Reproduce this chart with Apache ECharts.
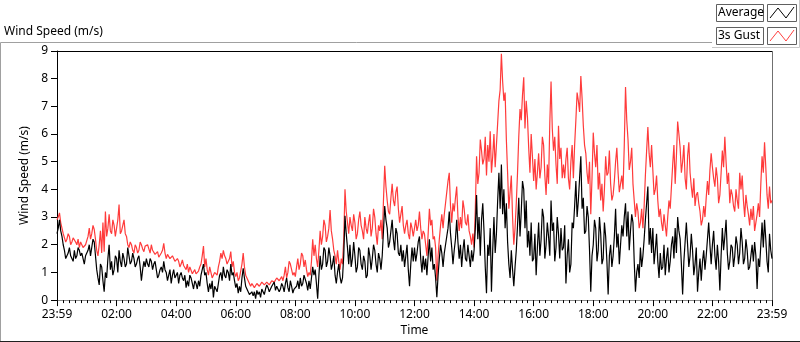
<!DOCTYPE html>
<html>
<head>
<meta charset="utf-8">
<title>Wind Speed</title>
<script src="https://cdn.jsdelivr.net/npm/echarts@6/dist/echarts.min.js"></script>
<style>
  html, body { margin: 0; padding: 0; background: #fff; }
  #chart { width: 800px; height: 342px; }
</style>
</head>
<body>
<div id="chart"></div>
<script>
// 采样间隔(分钟), 第 0 个点 = 23:59
var stepMin = 2.5;

// x 轴刻度文字, 每 120 分钟一个
var xTickLabels = ['23:59', '02:00', '04:00', '06:00', '08:00', '10:00', '12:00',
  '14:00', '16:00', '18:00', '20:00', '22:00', '23:59'];

// 3s Gust (m/s), 每行一小时 (24 个点)
var gust = [
  2.9, 3.0, 3.15, 2.8, 2.6, 2.4, 2.35, 2.1, 2.2, 2.4, 2.3, 2.0, 2.1, 2.25, 2.3, 2.1, 2.0, 2.2, 1.9, 2.1, 2.0, 1.9, 1.85, 2.0,
  1.95, 2.3, 2.6, 2.2, 2.4, 2.7, 2.55, 2.2, 1.8, 1.6, 2.0, 2.5, 1.7, 2.8, 1.75, 3.2, 2.3, 2.6, 3.1, 2.5, 2.4, 2.9, 2.7, 2.3,
  2.6, 2.9, 3.45, 2.4, 2.5, 2.7, 2.9, 2.4, 2.3, 2.0, 1.9, 2.1, 2.0, 1.8, 1.7, 2.0, 1.9, 1.7, 1.8, 2.1, 2.0, 1.85, 1.75, 1.95,
  1.9, 2.0, 1.85, 1.7, 2.0, 1.8, 1.8, 1.65, 1.6, 1.75, 1.55, 1.5, 1.7, 1.8, 2.05, 1.7, 1.5, 1.65, 1.6, 1.5, 1.45, 1.6, 1.5, 1.4,
  1.35, 1.5, 1.4, 1.2, 1.3, 1.45, 1.25, 1.2, 1.1, 1.3, 1.0, 1.2, 1.15, 0.95, 1.0, 1.1, 0.95, 1.0, 1.05, 1.2, 1.3, 1.6, 1.95, 1.2,
  1.5, 1.1, 0.9, 1.2, 1.0, 0.8, 0.85, 1.0, 0.95, 0.9, 1.2, 1.4, 1.7, 1.5, 1.8, 1.6, 1.5, 1.3, 1.4, 1.5, 1.75, 1.2, 1.4, 1.0,
  0.85, 1.0, 0.7, 0.8, 0.75, 1.3, 1.7, 1.2, 0.9, 0.8, 0.7, 0.6, 0.5, 0.6, 0.55, 0.45, 0.45, 0.6, 0.65, 0.5, 0.55, 0.65, 0.7, 0.55,
  0.6, 0.65, 0.7, 0.55, 0.6, 0.7, 0.75, 0.65, 0.7, 0.8, 0.8, 0.7, 0.75, 0.85, 0.7, 0.9, 1.2, 0.8, 1.0, 1.4, 1.3, 1.1, 0.9, 1.0,
  0.85, 1.2, 1.5, 1.1, 1.3, 1.7, 1.6, 1.2, 1.45, 1.1, 0.85, 1.0, 0.9, 1.4, 2.2, 1.6, 2.0, 1.5, 1.2, 1.8, 2.5, 2.0, 2.3, 2.9,
  2.7, 2.1, 2.3, 2.6, 3.25, 2.5, 2.2, 1.8, 1.6, 1.3, 1.8, 1.4, 1.1, 1.5, 1.3, 2.2, 4.0, 3.2, 2.8, 2.4, 3.0, 2.7, 2.5, 3.1,
  2.8, 2.2, 2.4, 2.9, 3.2, 2.7, 2.5, 2.2, 3.0, 2.6, 2.4, 2.8, 3.1, 2.3, 2.6, 3.3, 3.0, 2.4, 2.0, 2.7, 2.5, 2.9, 2.2, 3.6,
  4.85, 4.1, 3.6, 3.2, 3.1, 3.7, 4.2, 3.6, 3.4, 3.9, 4.1, 3.3, 2.8, 3.1, 3.4, 2.7, 2.4, 2.7, 2.9, 2.4, 2.2, 2.8, 2.6, 2.3,
  2.6, 2.9, 2.5, 2.7, 3.2, 2.6, 2.2, 2.5, 2.4, 2.0, 1.6, 2.4, 3.3, 2.7, 2.9, 2.2, 2.3, 1.9, 0.7, 1.6, 2.2, 2.7, 3.1, 2.6,
  3.1, 3.5, 3.9, 4.3, 4.6, 3.4, 2.8, 3.5, 3.2, 3.7, 4.1, 3.0, 2.5, 3.0, 2.6, 3.6, 3.3, 2.8, 2.7, 3.1, 2.5, 2.3, 2.0, 2.4,
  1.9, 3.3, 5.2, 4.2, 4.6, 5.8, 5.4, 4.9, 5.1, 5.9, 4.5, 5.6, 5.0, 6.1, 4.6, 5.2, 6.0, 4.8, 5.6, 6.4, 7.2, 7.6, 8.9, 7.9,
  7.2, 7.5, 5.8, 4.6, 3.3, 3.9, 4.5, 3.0, 2.0, 2.6, 3.5, 4.6, 5.9, 6.9, 6.5, 7.4, 8.05, 6.2, 7.2, 6.6, 5.5, 4.6, 6.0, 5.2,
  4.3, 5.1, 4.0, 4.6, 5.3, 4.4, 4.8, 5.9, 5.6, 4.5, 3.8, 4.9, 4.2, 6.4, 7.9, 6.2, 5.4, 5.9, 4.9, 4.2, 6.3, 5.1, 5.5, 4.4,
  4.9, 4.4, 5.1, 5.5, 4.4, 4.0, 5.0, 5.6, 4.4, 5.6, 6.5, 7.5, 7.2, 6.8, 8.1, 7.3, 6.3, 5.6, 5.3, 4.6, 4.2, 5.0, 3.1, 4.4,
  6.05, 5.3, 4.8, 5.6, 4.0, 4.6, 3.6, 4.2, 3.2, 4.0, 5.2, 4.5, 4.6, 5.4, 4.2, 3.6, 3.8, 4.3, 5.0, 5.5, 4.6, 3.9, 3.9, 4.5,
  4.0, 5.6, 7.7, 6.5, 5.8, 4.7, 5.0, 5.5, 4.2, 3.6, 3.0, 3.5, 3.2, 2.6, 2.8, 3.3, 2.6, 3.4, 4.5, 5.4, 6.25, 5.3, 4.8, 5.6,
  4.7, 3.8, 4.0, 4.5, 3.6, 3.0, 3.3, 2.8, 2.5, 3.1, 2.7, 2.3, 3.0, 3.6, 3.3, 4.1, 4.9, 5.6, 4.2, 5.2, 6.45, 6.0, 5.5, 4.6,
  5.0, 5.6, 4.4, 4.0, 5.2, 5.7, 4.6, 4.1, 3.7, 4.4, 3.4, 3.8, 3.9, 3.5, 3.2, 2.7, 2.9, 3.4, 3.0, 3.7, 4.3, 3.8, 4.7, 5.3,
  4.8, 4.4, 4.1, 4.8, 4.4, 3.5, 3.8, 4.6, 5.4, 4.8, 5.9, 5.0, 4.2, 4.6, 3.5, 4.0, 3.8, 3.4, 3.2, 4.0, 3.6, 3.3, 4.6, 4.0,
  4.5, 3.6, 3.0, 3.8, 3.4, 3.1, 2.7, 3.3, 2.9, 3.4, 2.5, 2.8, 3.1, 3.5, 3.0, 4.2, 5.2, 4.6, 5.7, 4.8, 3.8, 3.3, 4.1, 3.5, 3.6
];

// Average (m/s), 每行一小时 (24 个点)
var avg = [
  2.4, 2.6, 2.9, 2.5, 2.3, 2.0, 1.8, 1.5, 1.6, 1.7, 1.9, 1.6, 1.5, 1.4, 1.8, 1.5, 1.6, 1.9, 1.8, 1.6, 1.7, 1.5, 1.3, 1.6,
  1.6, 1.8, 2.0, 1.6, 1.9, 2.2, 2.1, 1.6, 1.1, 0.8, 0.55, 1.3, 1.2, 0.7, 0.3, 1.0, 0.8, 1.5, 2.0, 1.1, 1.4, 0.9, 1.1, 1.6,
  1.5, 1.0, 1.8, 1.4, 1.2, 1.7, 1.5, 1.2, 1.3, 1.9, 1.6, 1.3, 1.4, 1.7, 1.5, 1.2, 1.3, 1.5, 1.6, 1.2, 0.7, 1.1, 1.4, 1.2,
  1.5, 1.3, 1.2, 1.5, 1.4, 1.1, 1.3, 1.4, 1.1, 0.8, 0.9, 1.1, 1.2, 1.0, 1.4, 1.1, 1.0, 0.7, 0.9, 1.1, 0.6, 0.9, 1.1, 0.8,
  0.9, 1.0, 0.6, 0.9, 1.0, 0.8, 0.7, 0.9, 0.45, 0.7, 0.5, 0.9, 0.8, 0.6, 0.4, 0.7, 0.6, 0.4, 0.7, 0.5, 0.9, 1.1, 1.3, 0.9,
  1.0, 0.6, 0.3, 0.6, 0.4, 0.7, 0.1, 0.5, 0.4, 0.3, 0.6, 0.9, 1.0, 0.7, 1.2, 0.9, 0.8, 1.1, 1.0, 0.7, 1.3, 0.9, 1.0, 0.7,
  0.45, 0.6, 0.25, 0.5, 0.3, 0.8, 1.15, 0.8, 0.5, 0.4, 0.3, 0.2, 0.2, 0.3, 0.15, 0.3, 0.05, 0.35, 0.2, 0.3, 0.1, 0.4, 0.35, 0.2,
  0.4, 0.55, 0.45, 0.3, 0.35, 0.5, 0.5, 0.65, 0.35, 0.5, 0.55, 0.3, 0.4, 0.6, 0.5, 0.3, 0.6, 0.8, 0.45, 0.3, 0.7, 0.5, 0.25, 0.4,
  0.35, 0.5, 0.7, 0.4, 0.8, 0.5, 0.6, 0.9, 0.9, 0.6, 0.35, 0.7, 0.4, 0.8, 1.2, 0.9, 1.1, 0.6, 0.05, 0.9, 1.6, 1.1, 1.3, 1.9,
  1.8, 1.2, 1.4, 1.9, 1.6, 1.1, 1.3, 1.6, 0.9, 0.6, 1.0, 1.3, 0.85, 0.6, 0.8, 1.6, 3.05, 2.4, 1.9, 1.3, 2.0, 1.2, 1.5, 2.1,
  1.6, 1.0, 1.2, 1.9, 1.8, 1.3, 1.1, 1.6, 1.4, 0.8, 0.9, 1.9, 1.6, 1.1, 1.5, 2.0, 1.8, 1.3, 1.0, 1.7, 1.5, 1.1, 1.6, 2.5,
  3.4, 2.9, 2.6, 1.9, 2.1, 2.5, 2.9, 2.2, 1.8, 2.6, 2.4, 1.7, 1.6, 2.0, 1.4, 1.8, 1.2, 1.6, 2.0, 1.1, 0.5, 1.3, 1.9, 1.4,
  1.9, 1.4, 1.7, 2.1, 2.3, 1.5, 1.0, 1.6, 1.1, 1.5, 0.9, 1.6, 2.2, 1.4, 1.9, 1.1, 1.3, 0.8, 0.1, 0.9, 1.5, 2.0, 1.7, 1.2,
  1.7, 2.0, 2.3, 2.6, 3.2, 2.4, 1.9, 1.3, 1.8, 2.2, 2.9, 2.1, 1.5, 2.0, 1.2, 1.8, 2.2, 1.5, 1.4, 2.0, 1.6, 1.2, 1.8, 1.4,
  1.8, 2.6, 3.8, 2.2, 3.0, 1.6, 2.9, 3.5, 2.5, 1.2, 0.25, 2.0, 1.6, 2.6, 0.3, 1.8, 3.0, 1.7, 2.4, 3.6, 4.6, 3.3, 4.9, 3.1,
  4.0, 2.6, 3.5, 2.1, 1.3, 0.8, 1.8, 1.1, 0.5, 1.2, 1.8, 2.7, 3.7, 2.3, 3.2, 4.3, 4.0, 2.6, 3.6, 1.9, 2.5, 1.6, 2.8, 1.4,
  1.5, 2.4, 0.9, 1.9, 2.8, 1.6, 2.2, 3.3, 3.0, 1.5, 2.0, 2.8, 2.3, 1.6, 3.6, 2.5, 2.8, 1.4, 1.9, 3.0, 2.4, 1.5, 2.6, 1.8,
  1.9, 2.7, 0.6, 1.6, 2.2, 1.0, 1.3, 2.8, 2.6, 3.4, 4.3, 3.0, 3.6, 4.4, 5.2, 3.3, 3.7, 2.4, 2.5, 3.4, 3.0, 1.8, 0.3, 1.6,
  2.0, 2.9, 2.6, 1.4, 1.8, 3.0, 2.4, 1.3, 1.5, 2.8, 2.3, 1.4, 0.2, 1.6, 2.0, 1.2, 1.6, 2.3, 3.3, 1.9, 2.4, 1.3, 2.0, 2.7,
  2.3, 3.0, 3.5, 2.3, 3.2, 1.8, 2.5, 3.1, 2.8, 1.4, 0.3, 1.0, 1.3, 0.8, 1.9, 1.2, 1.6, 2.2, 2.9, 3.5, 4.1, 2.0, 2.6, 1.7,
  2.6, 1.3, 1.8, 2.4, 1.4, 0.8, 1.7, 1.1, 1.2, 2.0, 0.9, 1.5, 1.9, 1.0, 1.4, 2.0, 2.3, 1.5, 2.6, 1.7, 3.0, 2.5, 2.2, 1.3,
  0.2, 1.4, 2.1, 2.8, 2.0, 1.2, 1.6, 2.4, 1.8, 0.9, 1.3, 1.9, 0.3, 1.0, 1.5, 0.7, 1.4, 1.8, 1.1, 1.6, 2.2, 2.8, 2.0, 1.3,
  2.0, 2.5, 1.6, 1.1, 2.0, 1.4, 0.35, 1.6, 2.6, 1.8, 2.3, 2.9, 1.7, 1.1, 1.4, 2.0, 1.9, 1.2, 1.6, 2.3, 2.0, 1.3, 1.7, 2.6,
  2.1, 1.3, 1.5, 2.2, 1.8, 1.1, 1.2, 1.6, 2.0, 1.4, 2.1, 1.6, 0.4, 1.5, 1.2, 2.0, 2.8, 1.9, 2.9, 2.2, 1.4, 1.0, 2.4, 1.8, 1.5
];

var font = '"Noto Sans", "Open Sans", sans-serif';

function toPairs(arr) {
  return arr.map(function (v, i) { return [i * stepMin, v]; });
}

// 右上角图例 (文字框 + 小折线)
function legendRow(top, name, color) {
  return [
    { type: 'rect', shape: { x: 716.5, y: top + 0.5, width: 47, height: 17 },
      style: { fill: '#fff', stroke: '#606060', lineWidth: 1 } },
    { type: 'text', x: 718, y: top + 9,
      style: { text: name, font: '12px ' + font, fill: '#000', verticalAlign: 'middle' } },
    { type: 'rect', shape: { x: 767.5, y: top + 0.5, width: 29, height: 17 },
      style: { fill: '#fff', stroke: '#606060', lineWidth: 1 } },
    { type: 'polyline', shape: { points: [[770, top + 14], [778, top + 4], [786, top + 14], [794, top + 3]] },
      style: { stroke: color, fill: null, lineWidth: 1 } }
  ];
}

var chart = echarts.init(document.getElementById('chart'), null, { renderer: 'canvas' });

var graphics = [
  // 外框
  { type: 'polyline', shape: { points: [[712, 42.5], [0.5, 42.5], [0.5, 341.5]] },
    style: { stroke: '#a0a0a0', fill: null, lineWidth: 1 } },
  { type: 'line', shape: { x1: 0, y1: 341.5, x2: 800, y2: 341.5 }, style: { stroke: '#202020', lineWidth: 1 } },
  // 图例区域边线
  { type: 'polyline', shape: { points: [[712, 47.5], [799.5, 47.5], [799.5, 0]] },
    style: { stroke: '#c8c8c8', fill: null, lineWidth: 1 } },
  // 绘图区上边 / 右边
  { type: 'line', shape: { x1: 57, y1: 51.5, x2: 773, y2: 51.5 }, style: { stroke: '#000', lineWidth: 1 } },
  { type: 'line', shape: { x1: 772.5, y1: 51, x2: 772.5, y2: 303 }, style: { stroke: '#707070', lineWidth: 1 } },
  // 标题
  { type: 'text', x: 4, y: 32,
    style: { text: 'Wind Speed (m/s)', font: '12px ' + font, fill: '#000', verticalAlign: 'middle' } }
].concat(legendRow(4, 'Average', '#000'), legendRow(27, '3s Gust', '#ff4040'));

chart.setOption({
  animation: false,
  backgroundColor: '#fff',
  grid: { left: 57, right: 28, top: 51, bottom: 39 },
  xAxis: {
    type: 'value',
    min: 0,
    max: 1440,
    interval: 120,
    name: 'Time',
    nameLocation: 'middle',
    nameGap: 17,
    nameTextStyle: { color: '#000', fontSize: 12, fontFamily: font },
    axisLine: { show: true, lineStyle: { color: '#8a8a8a', width: 1 } },
    axisTick: { show: true, length: 6, lineStyle: { color: '#000' } },
    minorTick: { show: true, splitNumber: 10, length: 3, lineStyle: { color: '#000' } },
    splitLine: { show: false },
    axisLabel: {
      margin: 8,
      color: '#000',
      fontSize: 12,
      fontFamily: font,
      showMinLabel: true,
      showMaxLabel: true,
      formatter: function (v) { return xTickLabels[Math.round(v / 120)]; }
    }
  },
  yAxis: {
    type: 'value',
    min: 0,
    max: 9,
    interval: 1,
    name: 'Wind Speed (m/s)',
    nameLocation: 'middle',
    nameGap: 20,
    nameTextStyle: { color: '#000', fontSize: 12, fontFamily: font },
    axisLine: { show: true, lineStyle: { color: '#000', width: 1 } },
    axisTick: { show: true, length: 6, lineStyle: { color: '#000' } },
    splitLine: { show: false },
    axisLabel: { margin: 9, color: '#000', fontSize: 12, fontFamily: font }
  },
  series: [
    {
      name: '3s Gust',
      type: 'line',
      data: toPairs(gust),
      showSymbol: false,
      lineStyle: { color: '#ff3b3b', width: 1.2 },
      itemStyle: { color: '#ff3b3b' }
    },
    {
      name: 'Average',
      type: 'line',
      data: toPairs(avg),
      showSymbol: false,
      lineStyle: { color: '#000', width: 1.2 },
      itemStyle: { color: '#000' }
    }
  ],
  graphic: graphics
});
</script>
</body>
</html>
